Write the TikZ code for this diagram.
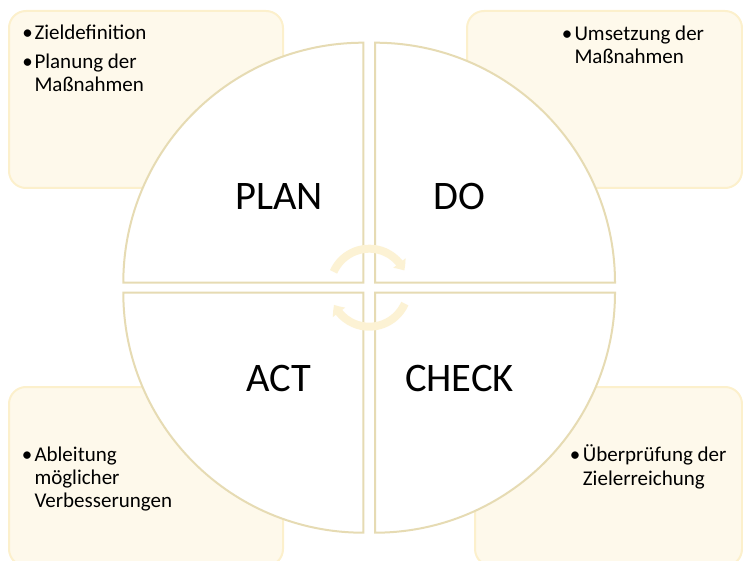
\documentclass[tikz,border=0pt]{standalone}
\usepackage{fontspec}
\setmainfont{Carlito}
\usetikzlibrary{arrows.meta,bending}
\definecolor{boxfill}{HTML}{FEF9EB}
\definecolor{boxline}{HTML}{FCF0CC}
\definecolor{secline}{HTML}{E6DBB3}
\definecolor{arrowfill}{HTML}{FCF2D4}
\begin{document}
\begin{tikzpicture}[x=1pt,y=1pt,
  infobox/.style={draw=boxline, fill=boxfill, line width=2pt, rounded corners=17pt, anchor=south west, inner sep=0pt, outer sep=0pt},
  sector/.style={draw=secline, fill=white, line width=2pt},
  cyclearrow/.style={draw=arrowfill, line width=8pt, -{Triangle[width=15pt,length=9pt,bend]}},
  txt/.style={font=\fontsize{21}{24}\selectfont, inner sep=0pt, anchor=base west},
  bul/.style={font=\fontsize{21}{24}\selectfont, inner sep=0pt, anchor=base},
  big/.style={font=\fontsize{40.5}{48}\selectfont, inner sep=0pt, anchor=base}]
\useasboundingbox (0,0) rectangle (743,560);
\clip (0,0) rectangle (743,560);
% corner boxes
\node[infobox, minimum width=274pt, minimum height=177pt] (tlbox) at (9,372) {};
\node[infobox, minimum width=275pt, minimum height=177pt] (trbox) at (467,372) {};
\node[infobox, minimum width=274pt, minimum height=179pt] (blbox) at (9,-6) {};
\node[infobox, minimum width=267pt, minimum height=179pt] (brbox) at (475,-6) {};
% sectors
\draw[sector] (363.3,277.3) -- ++(-240,0) arc[start angle=180, end angle=90, radius=240] -- cycle;
\draw[sector] (375,277.3) -- ++(0,240) arc[start angle=90, end angle=0, radius=240] -- cycle;
\draw[sector] (375,267.3) -- ++(240,0) arc[start angle=0, end angle=-90, radius=240] -- cycle;
\draw[sector] (363.3,267.3) -- ++(0,-240) arc[start angle=-90, end angle=-180, radius=240] -- cycle;
% central arrows
\coordinate (ctr) at (369.2,272.3);
\draw[cyclearrow] ([shift={(156:39)}]ctr) arc[start angle=156, end angle=26, radius=39];
\draw[cyclearrow] ([shift={(-24:39)}]ctr) arc[start angle=-24, end angle=-154, radius=39];
% labels
\node[big] (plan) at (279,350) {PLAN};
\node[big] (do) at (459,350) {DO};
\node[big] (act) at (278.5,169) {ACT};
\node[big] (check) at (459.5,169) {CHECK};
% texts top left
\node[bul] (b1) at (27.5,520) {•};
\node[txt] (t1) at (34.3,520) {Zieldefinition};
\node[bul] (b2) at (27.5,491.7) {•};
\node[txt] (t2) at (34.3,491.7) {Planung der};
\node[txt] (t3) at (34.3,468.3) {Maßnahmen};
% top right
\node[bul] (b3) at (567,519.3) {•};
\node[txt] (t4) at (574.3,519.3) {Umsetzung der};
\node[txt] (t5) at (574.3,496) {Maßnahmen};
% bottom left
\node[bul] (b4) at (27,98.3) {•};
\node[txt] (t6) at (34.3,98.3) {Ableitung};
\node[txt] (t7) at (34.3,75.7) {möglicher};
\node[txt] (t8) at (34.3,52.3) {Verbesserungen};
% bottom right
\node[bul] (b5) at (575,98.3) {•};
\node[txt] (t9) at (582.7,98.3) {Überprüfung der};
\node[txt] (t10) at (582.7,75) {Zielerreichung};
\end{tikzpicture}
\end{document}
